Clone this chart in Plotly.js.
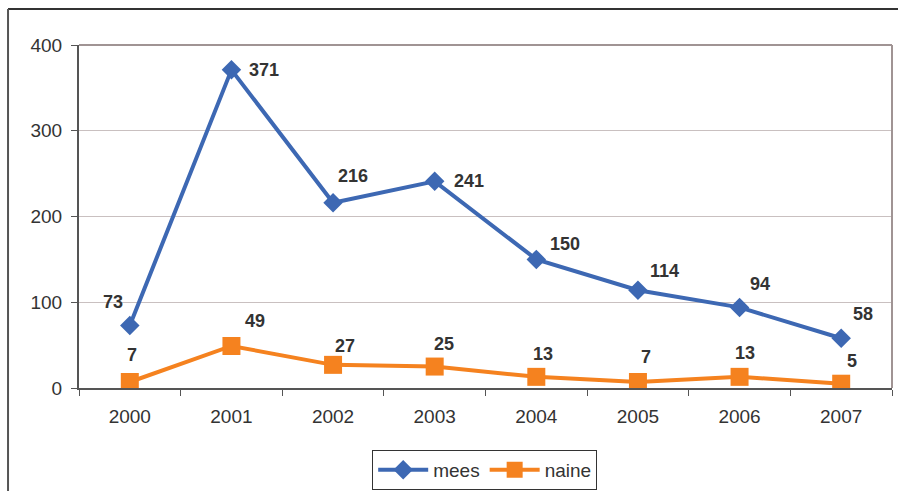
<!DOCTYPE html>
<html>
<head>
<meta charset="utf-8">
<script src="https://cdn.plot.ly/plotly-3.0.1.min.js"></script>
<style>html,body{margin:0;padding:0;background:#fff;}#chart{width:898px;height:491px;}</style>
</head>
<body>
<div id="chart"></div>
<pre id="err" style="position:absolute;top:0;left:0;color:red;font-size:10px;"></pre>
<script>
// ---- data ----
var years = ['2000','2001','2002','2003','2004','2005','2006','2007'];
var mees  = [73, 371, 216, 241, 150, 114, 94, 58];
var naine = [7, 49, 27, 25, 13, 7, 13, 5];
var seriesNames = ['mees', 'naine'];
var yTicks = [0, 100, 200, 300, 400];

// ---- label offsets (px) ----
var meesShift  = [[-17,23],[33,0],[20,27],[34,0],[29,15],[27,19],[20,23],[22,24]];
var naineShift = [[2,27],[24,25],[12,19],[9,23],[7,23],[8,25],[5,24],[11,23]];

var blue = '#3d68b3', orange = '#f5821f';
var fam = 'Liberation Sans, Arial, sans-serif';

try {
var traces = [
  {x: years, y: mees, name: seriesNames[0], type: 'scatter', mode: 'lines+markers',
   line: {color: blue, width: 4}, marker: {symbol: 'diamond', size: 15, color: blue}},
  {x: years, y: naine, name: seriesNames[1], type: 'scatter', mode: 'lines+markers',
   line: {color: orange, width: 4}, marker: {symbol: 'square', size: 18, color: orange}}
];

var annotations = [];
function addLabels(vals, shifts) {
  for (var i = 0; i < vals.length; i++) {
    annotations.push({x: i, y: vals[i], xref: 'x', yref: 'y', text: '<b>' + vals[i] + '</b>', showarrow: false,
      xshift: shifts[i][0], yshift: shifts[i][1],
      font: {family: fam, size: 18, color: '#333333'}});
  }
}
addLabels(mees, meesShift);
addLabels(naine, naineShift);

var layout = {
  width: 898, height: 491,
  margin: {l: 79, r: 6, t: 45, b: 103, autoexpand: false},
  paper_bgcolor: '#ffffff', plot_bgcolor: '#ffffff',
  showlegend: true,
  legend: {orientation: 'h', x: 0.499, xanchor: 'center', y: -0.239, yanchor: 'middle',
    bordercolor: '#333333', borderwidth: 1, font: {family: fam, size: 19, color: '#333333'},
    itemwidth: 50},
  xaxis: {type: 'category', range: [-0.5, 7.5], tickson: 'boundaries', ticks: 'outside', ticklen: 6,
    tickcolor: '#555555', showline: true, linecolor: '#555555', linewidth: 2, showgrid: false,
    ticklabelstandoff: 10,
    tickfont: {family: fam, size: 19, color: '#333333'}, zeroline: false, fixedrange: true},
  yaxis: {range: [0, 400], tickvals: yTicks, ticks: 'outside', ticklen: 6, tickcolor: '#555555',
    showline: true, linecolor: '#555555', linewidth: 2, showgrid: true, gridcolor: '#c9c0c0', gridwidth: 1,
    ticklabelstandoff: 5,
    tickfont: {family: fam, size: 19, color: '#333333'}, zeroline: false, fixedrange: true},
  shapes: [
    {type: 'line', xref: 'paper', yref: 'paper', x0: 0, x1: 1, y0: 1, y1: 1, line: {color: '#a09494', width: 2}},
    {type: 'line', xref: 'paper', yref: 'paper', x0: 1, x1: 1, y0: 0, y1: 1, line: {color: '#a09494', width: 2}},
    {type: 'line', xref: 'paper', yref: 'paper', x0: -0.0873, x1: 1.02, y0: 1.105, y1: 1.105, line: {color: '#333333', width: 2}},
    {type: 'line', xref: 'paper', yref: 'paper', x0: -0.0873, x1: -0.0873, y0: 1.105, y1: -0.32, line: {color: '#555555', width: 2}}
  ],
  annotations: annotations
};

Plotly.newPlot('chart', traces, layout, {displayModeBar: false, staticPlot: true}).catch(function(e){document.getElementById('err').textContent = String(e);});
} catch (e) { document.getElementById('err').textContent = String(e && e.stack || e); }
</script>
</body>
</html>
